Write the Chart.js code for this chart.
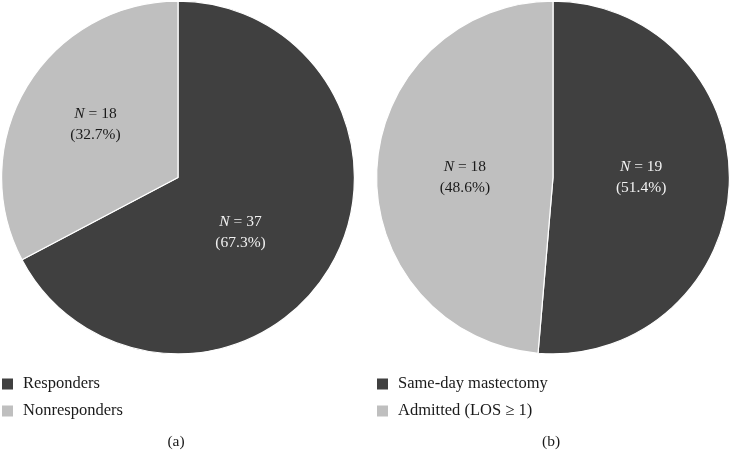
<!DOCTYPE html>
<html>
<head>
<meta charset="utf-8">
<script src="https://cdn.jsdelivr.net/npm/chart.js@4"></script>
<style>
  html, body { margin: 0; padding: 0; background: #fff; }
  #wrap { position: relative; width: 730px; height: 451px; overflow: hidden; }
  .box { position: absolute; top: 0; width: 365px; height: 451px; }
  #box-a { left: 0; }
  #box-b { left: 365px; }
</style>
</head>
<body>
<div id="wrap">
  <div class="box" id="box-a"><canvas id="pie-a"></canvas></div>
  <div class="box" id="box-b"><canvas id="pie-b"></canvas></div>
</div>
<script>
// Dados
const labelsA = ["Responders", "Nonresponders"];
const countsA = [37, 18];
const pctA = ["67.3%", "32.7%"];

const labelsB = ["Same-day mastectomy", "Admitted (LOS \u2265 1)"];
const countsB = [19, 18];
const pctB = ["51.4%", "48.6%"];

const colors = ["#404040", "#bfbfbf"];
const textColors = ["#f2f2f2", "#1a1a1a"];
const SERIF = "'Liberation Serif', 'DejaVu Serif', serif";

// Plugin: rótulos N = x (%), legenda e (a)/(b)
const decor = {
  id: "decor",
  afterDraw(chart, args, opts) {
    const ctx = chart.ctx;
    const meta = chart.getDatasetMeta(0);
    const data = chart.data.datasets[0].data;

    // rótulos nas fatias
    meta.data.forEach((arc, i) => {
      const p = arc.tooltipPosition();
      const x = p.x + opts.dx[i];
      const y = p.y + opts.dy[i];
      ctx.save();
      ctx.fillStyle = textColors[i];
      ctx.textBaseline = "middle";
      ctx.textAlign = "left";
      ctx.font = `italic 15.5px ${SERIF}`;
      const wN = ctx.measureText("N").width;
      ctx.font = `15.5px ${SERIF}`;
      const rest = ` = ${data[i]}`;
      const wR = ctx.measureText(rest).width;
      const x0 = x - (wN + wR) / 2;
      ctx.font = `italic 15.5px ${SERIF}`;
      ctx.fillText("N", x0, y - 10.5);
      ctx.font = `15.5px ${SERIF}`;
      ctx.fillText(rest, x0 + wN, y - 10.5);
      ctx.textAlign = "center";
      ctx.fillText(`(${opts.pct[i]})`, x, y + 10.5);
      ctx.restore();
    });

    // legenda
    ctx.save();
    chart.data.labels.forEach((lab, i) => {
      const y = 384 + i * 27;
      ctx.fillStyle = colors[i];
      ctx.fillRect(opts.legendX, y - 5.5, 11, 11);
      ctx.fillStyle = "#1a1a1a";
      ctx.font = `16.5px ${SERIF}`;
      ctx.textBaseline = "middle";
      ctx.textAlign = "left";
      ctx.fillText(lab, opts.legendX + 21, y);
    });

    // sub-título
    ctx.textAlign = "center";
    ctx.font = `15.5px ${SERIF}`;
    ctx.fillText(opts.tag, opts.tagX, 442);
    ctx.restore();
  }
};

function makePie(id, labels, counts, pct, tag, pad, legendX, tagX, dx, dy) {
  const ctx = document.getElementById(id).getContext("2d");
  return new Chart(ctx, {
    type: "pie",
    data: {
      labels,
      datasets: [{
        data: counts,
        backgroundColor: colors,
        borderColor: "#ffffff",
        borderWidth: 1.2,
      }]
    },
    options: {
      responsive: true,
      maintainAspectRatio: false,
      animation: false,
      events: [],
      layout: { padding: pad },
      plugins: {
        legend: { display: false },
        tooltip: { enabled: false },
        decor: { pct, tag, legendX, tagX, dx, dy }
      }
    },
    plugins: [decor]
  });
}

makePie("pie-a", labelsA, countsA, pctA, "(a)",
  { top: 0, left: 1, right: 10, bottom: 96 }, 2, 176, [-13, -7], [9, -8]);
makePie("pie-b", labelsB, countsB, pctB, "(b)",
  { top: 0, left: 11, right: 0, bottom: 96 }, 12, 186, [0, 0], [-4, 4]);
</script>
</body>
</html>
